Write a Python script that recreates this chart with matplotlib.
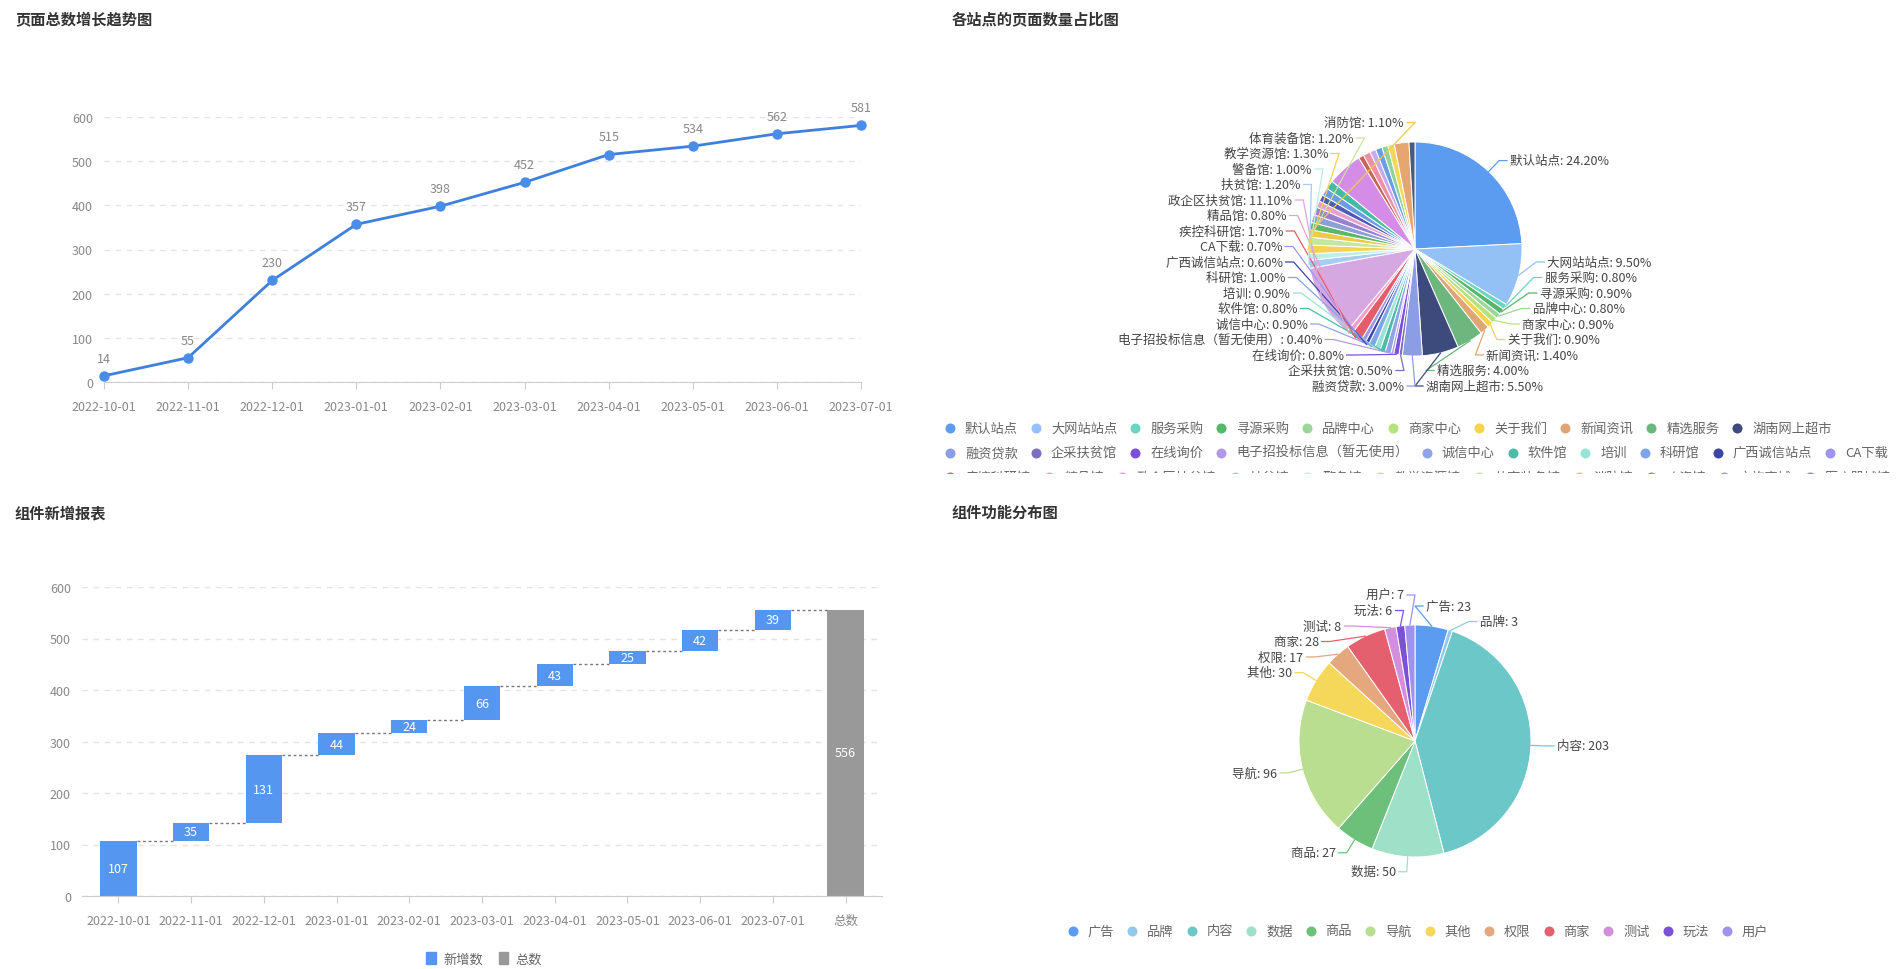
import numpy as np
import matplotlib
matplotlib.use("Agg")
import matplotlib.pyplot as plt
from matplotlib.patches import Patch

plt.rcParams['font.family'] = ['Noto Sans CJK SC', 'DejaVu Sans']

W, H = 1898, 970

# ---- data ----
trend_dates = ['2022-10-01', '2022-11-01', '2022-12-01', '2023-01-01', '2023-02-01',
               '2023-03-01', '2023-04-01', '2023-05-01', '2023-06-01', '2023-07-01']
trend_totals = [14, 55, 230, 357, 398, 452, 515, 534, 562, 581]

new_dates = trend_dates
new_counts = [107, 35, 131, 44, 24, 66, 43, 25, 42, 39]
total_name = '总数'

site_names = ['默认站点', '大网站站点', '服务采购', '寻源采购', '品牌中心', '商家中心', '关于我们',
              '新闻资讯', '精选服务', '湖南网上超市',
              '融资贷款', '企采扶贫馆', '在线询价', '电子招投标信息（暂无使用）', '诚信中心', '软件馆',
              '培训', '科研馆', '广西诚信站点', 'CA下载',
              '疾控科研馆', '精品馆', '政企区扶贫馆', '扶贫馆', '警备馆', '教学资源馆', '体育装备馆',
              '消防馆', '农资馆', '文旅商城', '医疗器械馆', '办公用品', '工程建设', '物流服务',
              '法律服务', '人才服务', '金融超市', '智慧校园', '园林绿化', '安防馆', '车辆服务',
              '餐饮服务', '印刷服务', '会议服务']
site_pages = [242, 95, 8, 9, 8, 9, 9, 14, 40, 55,
              30, 5, 8, 4, 9, 8, 9, 10, 6, 7,
              17, 8, 111, 12, 10, 13, 12, 11, 11, 12,
              12, 10, 10, 12, 13, 53, 8, 11, 9, 10,
              9, 10, 22, 9]
site_colors = ['#5b9cf0', '#93c1f5', '#6cd4c2', '#55b76a', '#9dd69a', '#b3e27e', '#f4d44e',
               '#e0a574', '#6db77f', '#3c4a7c',
               '#8b9ee5', '#7a6fbf', '#7a52d9', '#b39ae9', '#8fa4e6', '#4dbba8', '#97e3d5',
               '#7ea6e8', '#3b45a8', '#9d94f0',
               '#e35d6a', '#f0a0c8', '#d6a8e2', '#a7cbf3', '#bfeee4', '#f5d24f', '#c3e6a0',
               '#f0c94a', '#5fb56e', '#8e9fd6', '#9b7fd1', '#e6a0d0', '#4e5bb8', '#6a9de3',
               '#45bba5', '#d58ce6', '#c8645a', '#ef8fa6', '#c7a9ec', '#6a9de8', '#8ed39a',
               '#f5d75a', '#e5a66f', '#4a5a7a']
n_site_labels = 28

func_names = ['广告', '品牌', '内容', '数据', '商品', '导航', '其他', '权限', '商家', '测试', '玩法', '用户']
func_counts = [23, 3, 203, 50, 27, 96, 30, 17, 28, 8, 6, 7]
func_colors = ['#5b9cf0', '#93c9e8', '#6cc8c8', '#9fe0c8', '#6cc07a', '#b9de90', '#f5d75a',
               '#e4a77e', '#e5606e', '#d48fdc', '#7b52d6', '#9e92ee']

BLUE = '#5596f0'
GREY = '#999999'
TXT = '#888888'

fig = plt.figure(figsize=(W / 100, H / 100), dpi=100)


def px_axes(x0, y0, x1, y1):
    return fig.add_axes([x0 / W, 1 - y1 / H, (x1 - x0) / W, (y1 - y0) / H])


def style_axes(ax):
    for s in ('top', 'right', 'left'):
        ax.spines[s].set_visible(False)
    ax.spines['bottom'].set_color('#cccccc')
    ax.grid(axis='y', ls=(0, (4, 4)), color='#e3e3e3', lw=1)
    ax.set_axisbelow(True)
    ax.tick_params(axis='y', length=0, pad=8, labelsize=9, labelcolor=TXT)
    ax.tick_params(axis='x', length=5, color='#cccccc', pad=8, labelsize=9, labelcolor=TXT)


# titles
for x, y, t in [(15, 19, '页面总数增长趋势图'), (952, 19, '各站点的页面数量占比图'),
                (15, 513, '组件新增报表'), (952, 513, '组件功能分布图')]:
    fig.text(x / W, 1 - y / H, t, fontsize=11, fontweight='bold', color='#333333', va='center')

# ---- line chart ----
ax1 = px_axes(104, 118, 861, 383)
xs = np.arange(len(trend_totals))
ax1.plot(xs, trend_totals, color='#3f80dc', lw=2, marker='o', ms=6.5,
         mfc='#4a8de8', mec='#4a8de8', zorder=3, clip_on=False)
ax1.set_xlim(0, len(xs) - 1)
ax1.set_ylim(0, 600)
ax1.set_yticks(range(0, 601, 100))
ax1.set_xticks(xs, trend_dates)
style_axes(ax1)
for xi, v in zip(xs, trend_totals):
    ax1.annotate(str(v), (xi, v), xytext=(0, 8), textcoords='offset points',
                 ha='center', va='bottom', fontsize=9, color=TXT)

# ---- waterfall ----
ax2 = px_axes(82, 588, 882, 897)
n = len(new_counts)
cum = np.cumsum(new_counts)
bottoms = cum - np.array(new_counts)
total = cum[-1]
pos = np.arange(n + 1)
ax2.bar(pos[:n], new_counts, bottom=bottoms, width=0.5, color=BLUE, zorder=2)
ax2.bar(pos[n], total, width=0.5, color=GREY, zorder=2)
for i in range(n):
    ax2.plot([pos[i] + 0.25, pos[i + 1] - 0.25], [cum[i], cum[i]], ls=(0, (2, 2)),
             color='#777777', lw=1, zorder=3)
    ax2.text(pos[i], bottoms[i] + new_counts[i] / 2, str(new_counts[i]), ha='center',
             va='center', fontsize=9, color='white', zorder=4)
ax2.text(pos[n], total / 2, str(total), ha='center', va='center', fontsize=9, color='white', zorder=4)
ax2.set_xlim(-0.5, n + 0.5)
ax2.set_ylim(0, 600)
ax2.set_yticks(range(0, 601, 100))
ax2.set_xticks(pos, new_dates + [total_name])
style_axes(ax2)
fig.legend(handles=[Patch(color=BLUE, label='新增数'), Patch(color=GREY, label='总数')],
           loc='center', bbox_to_anchor=(484 / W, 1 - 960 / H), ncol=2, frameon=False,
           fontsize=9.5, labelcolor='#666666', handlelength=0.75, handleheight=1.0,
           handletextpad=0.5, columnspacing=1.2)

# ---- pies (pixel coordinate overlay, y up) ----
axp = fig.add_axes([0, 0, 1, 1])


def spread(nat, gap, lo, hi):
    order = list(np.argsort(nat))
    groups = [[k] for k in order]

    def place(g):
        c = np.mean([nat[k] for k in g])
        s = c - (len(g) - 1) * gap / 2
        return min(max(s, lo), hi - (len(g) - 1) * gap)

    changed = True
    while changed:
        changed = False
        for j in range(len(groups) - 1):
            e0 = place(groups[j]) + (len(groups[j]) - 1) * gap
            if place(groups[j + 1]) < e0 + gap:
                groups[j] = groups[j] + groups[j + 1]
                del groups[j + 1]
                changed = True
                break
    out = np.zeros(len(nat))
    for g in groups:
        s = place(g)
        for m, k in enumerate(g):
            out[k] = s + m * gap
    return out


def pie_with_labels(ax, values, colors, names, cx, cy, r, fmt, n_lab):
    vals = np.asarray(values, float)
    ax.pie(vals, colors=colors, startangle=90, counterclock=False, center=(cx, H - cy),
           radius=r, frame=True, wedgeprops=dict(edgecolor='white', linewidth=0.7))
    frac = vals / vals.sum()
    mid = np.radians((np.cumsum(frac) - frac / 2) * 360)
    l1, l2, gap = 15, 8, 15.5
    lo, hi = cy - r - 30, cy + r + 30
    for side in (1, -1):
        idx = [i for i in range(n_lab) if (1 if np.sin(mid[i]) >= 0 else -1) == side]
        if not idx:
            continue
        nat = [cy - (r + l1) * np.cos(mid[i]) for i in idx]
        ys = spread(nat, gap, lo, hi)
        for i, y in zip(idx, ys):
            dy = y - cy
            x1 = cx + side * np.sqrt(max((r + l1) ** 2 - dy ** 2, 0))
            x2 = x1 + side * l2
            p0x, p0y = cx + r * np.sin(mid[i]), cy - r * np.cos(mid[i])
            ax.plot([p0x, x1, x2], [H - p0y, H - y, H - y], color=colors[i], lw=0.9)
            ax.text(x2 + side * 3, H - y, fmt(names[i], values[i], frac[i]),
                    ha='left' if side > 0 else 'right', va='center', fontsize=9, color='#444444')


pie_with_labels(axp, site_pages, site_colors, site_names, 1415, 250, 107,
                lambda nm, v, f: f'{nm}: {f * 100:.2f}%', n_site_labels)
pie_with_labels(axp, func_counts, func_colors, func_names, 1415, 742, 116,
                lambda nm, v, f: f'{nm}: {v}', len(func_names))
axp.set_xlim(0, W)
axp.set_ylim(0, H)
axp.set_aspect('auto')
axp.axis('off')

renderer = fig.canvas.get_renderer()


def measure(ax, names):
    ws = []
    for nm in names:
        t = ax.text(0, 0, nm, fontsize=9.5)
        ws.append(t.get_window_extent(renderer).width)
        t.remove()
    return ws


def draw_legend(ax, names, colors, x0, y0, xmax, row_h, centered=False, max_rows=1):
    ws = measure(ax, names)
    if centered:
        full = sum(20 + w + 13 for w in ws) - 13
        x0 = x0 - full / 2
    x, y, row = x0, y0, 0
    for nm, c, w in zip(names, colors, ws):
        if x + 20 + w > xmax and x > x0:
            x, y, row = x0, y + row_h, row + 1
        if row >= max_rows:
            break
        ax.scatter([x + 5], [y], s=52, color=c, linewidths=0, clip_on=True)
        ax.text(x + 20, y, nm, fontsize=9.5, color='#666666', ha='left', va='center', clip_on=True)
        x += 20 + w + 13


# top legend: third row is cut off by the panel edge
lax = px_axes(930, 412, W, 474)
lax.set_xlim(930, W)
lax.set_ylim(474, 412)
lax.axis('off')
draw_legend(lax, site_names, site_colors, 945, 429, 1892, 24.5, max_rows=3)

lax2 = px_axes(950, 912, W, 952)
lax2.set_xlim(950, W)
lax2.set_ylim(952, 912)
lax2.axis('off')
draw_legend(lax2, func_names, func_colors, 1418, 932, W, 24, centered=True)

fig.savefig('out.png', dpi=100, facecolor='white')
